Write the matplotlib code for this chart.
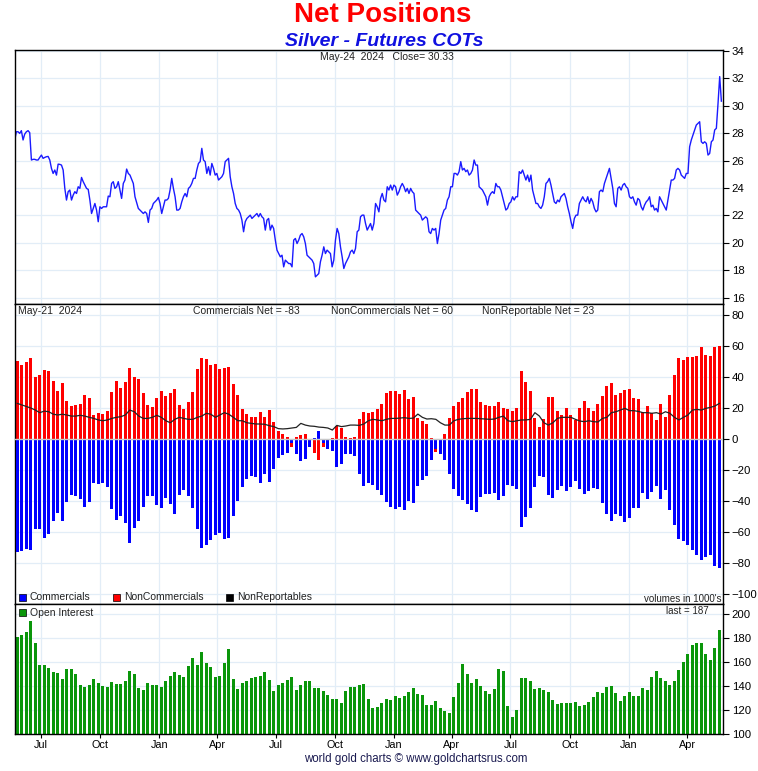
import numpy as np
import pandas as pd
import matplotlib
matplotlib.use('Agg')
import matplotlib.pyplot as plt
import matplotlib.dates as mdates
from matplotlib.patches import Rectangle

plt.rcParams['font.family'] = ['Liberation Sans', 'DejaVu Sans']

# silver price (daily-ish samples, May-2021 .. May-24 2024)
price = [
    27.50, 28.10, 28.10, 27.98, 28.18, 27.50, 27.93, 28.10, 28.18, 28.03, 26.04,
    26.09, 26.09, 26.04, 26.04, 26.23, 26.40, 26.16, 26.23, 26.28, 26.30, 26.04,
    25.43, 25.06, 25.31, 24.94, 25.74, 25.72, 25.67, 25.31, 23.97, 23.12,
    23.73, 23.85, 23.12, 23.48, 23.73, 23.60, 24.09, 23.97, 24.77, 24.46,
    24.21, 23.97, 23.90, 23.12, 22.14, 22.51, 22.87, 22.39, 21.54, 22.63,
    22.51, 22.63, 22.63, 22.63, 23.41, 23.36, 24.33, 24.46, 23.97, 24.09,
    24.46, 23.85, 23.24, 24.33, 24.58, 25.38, 25.06, 24.94, 24.63, 24.33,
    23.36, 22.92, 22.51, 22.39, 22.26, 22.14, 22.26, 22.14, 21.49, 22.39,
    22.51, 22.87, 22.99, 23.12, 23.31, 22.87, 22.14, 22.63, 23.12, 23.12,
    23.24, 23.85, 24.70, 23.97, 23.36, 22.39, 22.39, 22.51, 22.99, 23.36,
    23.60, 23.36, 23.97, 24.09, 24.33, 24.70, 24.70, 25.31, 25.79, 25.92,
    26.89, 26.04, 25.92, 25.06, 25.55, 24.94, 25.79, 25.43, 24.94, 25.06,
    24.58, 24.70, 24.82, 25.06, 25.92, 26.04, 26.16, 24.82, 24.09, 23.60,
    22.87, 22.51, 22.39, 22.14, 21.66, 20.81, 21.54, 21.78, 21.90, 22.02,
    21.78, 21.90, 22.02, 22.14, 21.90, 22.14, 21.90, 21.78, 20.93, 21.66,
    21.78, 20.93, 21.29, 21.05, 20.20, 19.47, 19.22, 18.98, 19.10, 18.25,
    18.74, 18.62, 18.49, 18.49, 18.25, 20.20, 20.32, 19.95, 20.20, 20.56,
    20.68, 20.44, 19.95, 19.10, 18.98, 18.86, 18.74, 18.49, 17.52, 17.64,
    17.76, 18.62, 19.10, 19.71, 19.22, 19.47, 19.35, 19.22, 18.25, 18.74,
    20.20, 21.05, 20.68, 19.71, 18.98, 18.13, 18.49, 18.74, 18.98, 19.35,
    19.47, 19.22, 19.59, 20.81, 20.93, 21.90, 22.02, 22.02, 21.41, 20.93,
    21.17, 21.41, 20.93, 21.41, 22.87, 22.63, 22.26,
    23.24, 23.60, 23.12, 22.99, 24.09, 23.85, 24.21, 23.85, 24.21, 24.09,
    23.48, 23.73, 24.09, 24.33, 24.09, 23.73, 23.97, 23.60, 23.97, 23.73,
    23.60, 22.39, 22.26, 22.14, 22.02, 21.66, 21.78, 21.90, 21.78, 20.81,
    20.68, 21.05, 20.93, 21.05, 19.95, 20.68, 21.66, 22.02, 22.39, 22.51,
    23.12, 23.36, 24.09, 24.09, 25.06, 25.06, 24.94, 25.19, 25.92, 25.31,
    25.43, 25.19, 25.31, 24.94, 25.06, 25.31, 26.04, 25.67, 25.67, 24.09,
    23.97, 23.85, 23.60, 23.36, 22.75, 23.36, 23.60, 23.73, 23.60, 24.33,
    24.09, 24.09, 23.85, 23.36, 22.87, 22.39, 22.51, 22.87, 22.99, 23.36,
    23.12, 23.36, 23.36, 25.19, 25.06, 25.31, 24.94, 24.58, 24.94, 24.46,
    24.94, 23.85, 23.36, 22.87, 22.87, 22.63, 22.51, 22.75, 23.36, 24.33,
    24.46, 24.70, 24.21, 23.60, 22.99, 22.87, 23.12, 22.99, 23.36, 23.48,
    23.60, 23.24, 22.63, 22.14, 21.54, 21.05, 21.78, 22.02, 22.02, 22.87,
    23.12, 23.36, 23.12, 22.99, 23.36, 22.87, 23.24, 22.99, 22.51, 22.26,
    22.39, 23.73, 23.85, 23.73, 24.33, 24.70, 25.06, 25.43, 24.70, 23.97,
    22.87, 22.63, 23.97, 24.09, 23.85, 24.21, 24.33, 24.09, 23.97, 23.36,
    23.24, 23.36, 22.99, 22.75, 23.24, 23.12, 22.63, 22.39, 22.75, 22.99,
    23.12, 23.36, 22.63, 22.75, 22.39, 22.51, 22.26, 23.36, 23.12, 22.87,
    22.63, 22.39, 23.12, 23.85, 24.58, 24.58, 24.70, 25.31, 25.43, 25.31,
    24.94, 24.82, 24.70, 25.06, 25.06, 27.01, 27.50, 27.86, 28.23, 28.59,
    28.71, 28.83, 27.37, 27.25, 27.37, 27.25, 26.40, 26.52, 27.37, 27.50,
    28.23, 28.35, 30.17, 32.12, 30.33,
]

# weekly COT net positions (1000's of contracts)
commercials = [
    -72.7, -72.0, -71.0, -71.6, -58.1, -58.1, -63.9, -61.3, -52.9, -47.7,
    -52.9, -40.6, -36.1, -36.8, -38.7, -43.9, -40.6, -28.4, -29.0, -28.4,
    -31.0, -45.2, -52.3, -49.7, -54.2, -67.1, -57.4, -52.9, -43.9, -36.8,
    -36.8, -42.6, -44.5, -38.1, -41.9, -48.4, -36.1, -32.9, -36.8, -44.5,
    -58.1, -70.1, -68.4, -65.2, -61.9, -60.6, -64.5, -63.9, -49.7, -40.0,
    -31.0, -25.8, -23.9, -24.5, -28.4, -22.6, -27.7, -19.4, -12.3, -10.3,
    -9.0, -2.6, -9.7, -14.2, -12.9, -5.2, 0.8, 5.2, -2.6, -6.5,
    -7.7, -18.1, -16.1, -9.7, -9.7, -11.0, -22.6, -30.3, -28.4, -29.7,
    -32.9, -36.1, -40.6, -43.9, -45.2, -43.9, -45.8, -40.0, -41.3, -30.3,
    -26.5, -23.9, -13.5, -6.5, -9.7, -13.5, -22.6, -32.3, -36.8, -39.4,
    -41.9, -45.8, -47.1, -37.4, -35.5, -35.5, -34.8, -39.4, -36.8, -29.7,
    -30.3, -32.3, -56.8, -50.3, -44.5, -31.0, -23.9, -24.5, -36.1, -38.1,
    -32.9, -30.3, -33.5, -31.0, -27.1, -32.3, -35.5, -33.5, -31.6, -32.3,
    -41.3, -48.4, -52.9, -48.4, -49.7, -53.5, -51.0, -44.5, -44.5, -34.8,
    -38.7, -34.2, -30.3, -38.7, -32.9, -45.8, -55.5, -64.5, -65.8, -68.4,
    -71.6, -74.8, -78.1, -76.1, -74.8, -81.9, -83.0,
]
noncommercials = [
    50.3, 47.7, 49.7, 52.3, 40.0, 41.3, 44.5, 43.9, 37.4, 31.0,
    36.1, 24.5, 21.3, 21.9, 22.6, 28.4, 26.5, 15.5, 16.8, 16.1,
    18.1, 30.3, 37.4, 32.9, 36.8, 45.8, 40.0, 38.7, 29.7, 21.9,
    20.6, 26.5, 31.0, 27.7, 29.7, 32.3, 21.9, 19.4, 23.9, 30.3,
    45.2, 52.3, 51.6, 47.7, 48.4, 45.2, 45.8, 46.5, 35.5, 28.4,
    19.4, 16.1, 14.2, 14.2, 17.4, 14.2, 18.7, 11.0, 5.2, 3.2,
    1.3, -5.2, 1.3, 2.6, 3.2, -3.2, -9.0, -13.5, -5.2, -0.6,
    0.6, 8.4, 7.1, 1.3, 0.7, 1.3, 12.9, 17.4, 16.8, 17.4,
    19.4, 22.6, 29.7, 31.0, 31.0, 29.0, 31.6, 25.8, 27.1, 13.5,
    11.6, 9.7, 0.4, -8.4, -0.8, 3.2, 13.5, 21.3, 23.9, 26.5,
    30.3, 32.3, 32.3, 23.9, 21.9, 21.3, 21.3, 23.9, 20.0, 19.4,
    18.1, 20.0, 43.9, 36.8, 31.0, 13.5, 7.7, 12.9, 27.1, 27.1,
    18.1, 15.5, 20.0, 15.5, 12.3, 20.0, 24.5, 20.0, 18.1, 22.6,
    27.7, 34.2, 36.1, 28.4, 29.7, 31.6, 32.3, 26.5, 25.8, 17.4,
    21.3, 16.8, 12.3, 22.6, 14.2, 28.4, 41.3, 52.3, 51.0, 52.9,
    52.9, 53.5, 59.4, 54.2, 53.5, 59.4, 60.0,
]
nonreportables = [
    23, 22, 21, 20, 18.7, 17, 18, 17.6, 16, 15.5,
    16, 15.5, 14.8, 14.8, 15.3, 14.8, 14, 13.3, 12.3, 11.8,
    12.3, 13.3, 14, 14.4, 15.5, 18.7, 17.6, 14.8, 13.3, 13.3,
    14, 15.3, 14, 11.8, 10.5, 12.7, 14, 13.3, 12.7, 12.7,
    14, 14.8, 16.6, 16, 14, 15.5, 17, 16, 14, 11.8,
    11.8, 10.5, 10.1, 9.7, 9.7, 9.5, 8.6, 8, 6.7, 6.5,
    6.7, 7.1, 7.5, 10.1, 9, 8.4, 8.2, 7.7, 7.5, 7.1,
    5.8, 8.8, 8, 8.4, 9, 9, 8.8, 9.7, 11.8, 12.7,
    12.3, 11.8, 12.7, 13.3, 13.3, 13.5, 13.8, 13.3, 13.5, 16.1,
    14, 12.9, 13.1, 12.7, 10.5, 9, 9, 11.8, 12.7, 13.1,
    13.3, 13.3, 13.3, 13.1, 12.9, 12.7, 12.9, 14, 14.8, 11.8,
    11.2, 11.8, 12.3, 12.3, 12.7, 17, 14.8, 10.5, 9, 10.5,
    13.3, 14, 14, 14, 12.7, 11.6, 11.2, 11.8, 11.2, 11,
    13.3, 14, 17, 17.6, 18.7, 19.8, 18.3, 18.3, 17.8, 17,
    17, 16.6, 17, 16.1, 17.6, 16.6, 14, 12.3, 14, 15.5,
    18.7, 19.1, 18.7, 19.8, 20.4, 21.3, 23,
]
open_interest = [
    180.8, 182.5, 185, 194.2, 175.8, 157.5, 157.5, 155, 151.7, 150.8,
    145.8, 154.2, 154.2, 150, 140.8, 139.2, 140.8, 145.8, 142.5, 140,
    139.2, 143.3, 141.7, 141.7, 144.2, 152.5, 150, 138.3, 136.7, 142.5,
    140.8, 140.8, 139.2, 144.2, 148.3, 151.7, 149.2, 147.5, 156.7, 163.3,
    157.5, 168.3, 159.2, 155.8, 147.5, 148.3, 159.2, 170.8, 145.8, 137.5,
    142.5, 144.2, 146.7, 147.5, 148.3, 151.7, 145, 135.8, 140.8, 142.5,
    145, 147.5, 136.7, 140.8, 144.2, 144.2, 138.3, 138.3, 135.8, 132.5,
    129.2, 129.2, 125.8, 135.8, 139.2, 139.2, 140.8, 141.7, 129.2, 121.7,
    122.5, 125.8, 129.2, 128.3, 131.7, 130, 131.7, 135, 138.3, 133.3,
    132.5, 124.2, 124.2, 127.5, 121.7, 119.2, 117.5, 130.8, 142.5, 158.3,
    150, 142.5, 145.8, 140, 135.8, 133.3, 137.5, 154.2, 152.5, 123.3,
    114.2, 120, 146.7, 146.7, 144.2, 137.5, 138.3, 136.7, 135, 128.3,
    125, 125.8, 125.8, 125.8, 126.7, 123.3, 124.2, 126.7, 130.8, 135,
    134.2, 139.2, 140, 134.2, 127.5, 131.7, 135, 131.7, 131.7, 138.3,
    136.7, 147.5, 152.5, 146.7, 144.2, 140.8, 144.2, 153.3, 160, 166.7,
    174.2, 175.8, 175.8, 166.7, 161.7, 171.7, 186.7,
]

price_dates = pd.date_range('2021-05-21', '2024-05-24', periods=len(price))
cot_dates = pd.date_range('2021-05-25', periods=len(commercials), freq='7D')

grid_col = '#e2edf7'
txt_col = '#222222'

fig = plt.figure(figsize=(7.58, 7.71), dpi=100)
L = 14.7 / 758
W = (723.3 - 14.7) / 758
ax1 = fig.add_axes([L, 1 - 304.3 / 771, W, (304.3 - 50) / 771])
ax2 = fig.add_axes([L, 1 - 604.3 / 771, W, 300 / 771])
ax3 = fig.add_axes([L, 1 - 734 / 771, W, (734 - 604.3) / 771])

for ax in (ax1, ax2, ax3):
    ax.set_xlim(pd.Timestamp('2021-05-21'), pd.Timestamp('2024-05-27'))
    ax.xaxis.set_major_locator(mdates.MonthLocator(bymonth=[1, 4, 7, 10]))
    ax.xaxis.set_major_formatter(mdates.DateFormatter('%b'))
    ax.yaxis.tick_right()
    ax.tick_params(axis='y', direction='out', length=4, pad=2, labelsize=8.2, colors='black')
    ax.grid(True, color=grid_col, lw=0.9)
    ax.set_axisbelow(True)
    for s in ax.spines.values():
        s.set_color('black')
        s.set_linewidth(1.0)

ax1.tick_params(axis='x', bottom=False, labelbottom=False)
ax2.tick_params(axis='x', bottom=False, labelbottom=False)
ax3.tick_params(axis='x', direction='out', length=3, pad=1.5, labelsize=7.8)

# price panel
ax1.plot(price_dates, price, color='#1a1aff', lw=1.0)
ax1.set_ylim(15.52, 34.06)
ax1.set_yticks(np.arange(16, 35, 2))
ax1.text(0.525, 0.972, 'May-24  2024   Close= 30.33', transform=ax1.transAxes,
         ha='center', va='center', fontsize=7.5, color=txt_col)

# net positions panel
ax2.bar(cot_dates, noncommercials, width=4.7, color='#ff0000', zorder=2)
ax2.bar(cot_dates, commercials, width=4.7, color='#0000ff', zorder=3)
ax2.axhline(0, color='#c8c8c8', lw=1.0, zorder=4)
ax2.plot(cot_dates, nonreportables, color='#222222', lw=0.9, zorder=5)
ax2.set_ylim(-106.6, 86.9)
ax2.set_yticks(np.arange(-100, 81, 20))

yt = 0.978
ax2.text(0.005, yt, 'May-21  2024', transform=ax2.transAxes, ha='left', va='center', fontsize=7.5, color=txt_col)
ax2.text(0.327, yt, 'Commercials Net = %d' % round(commercials[-1]), transform=ax2.transAxes,
         ha='center', va='center', fontsize=7.5, color=txt_col)
ax2.text(0.532, yt, 'NonCommercials Net = %d' % round(noncommercials[-1]), transform=ax2.transAxes,
         ha='center', va='center', fontsize=7.5, color=txt_col)
ax2.text(0.738, yt, 'NonReportable Net = %d' % round(nonreportables[-1]), transform=ax2.transAxes,
         ha='center', va='center', fontsize=7.5, color=txt_col)

def legend_box(ax, x0, color, label, y, h):
    w = 7 / 708.6
    ax.add_patch(Rectangle((x0, y - h / 2), w, h, transform=ax.transAxes,
                           facecolor=color, edgecolor='black', lw=0.5, zorder=6))
    ax.text(x0 + w + 4 / 708.6, y, label, transform=ax.transAxes, ha='left', va='center',
            fontsize=7.5, color=txt_col, zorder=6)

legend_box(ax2, (19 - 14.7) / 708.6, '#0000ff', 'Commercials', 0.024, 7 / 300)
legend_box(ax2, (113 - 14.7) / 708.6, '#ff0000', 'NonCommercials', 0.024, 7 / 300)
legend_box(ax2, (226 - 14.7) / 708.6, '#000000', 'NonReportables', 0.024, 7 / 300)
ax2.text(0.997, 0.016, "volumes in 1000's", transform=ax2.transAxes, ha='right', va='center',
         fontsize=7, color=txt_col)

# open interest panel
ax3.bar(cot_dates, open_interest, width=4.7, color='#0a960a', zorder=2)
ax3.set_ylim(100, 208.1)
ax3.set_yticks(np.arange(100, 201, 20))
legend_box(ax3, (19 - 14.7) / 708.6, '#0a960a', 'Open Interest', 0.935, 7 / 129.7)
ax3.text(0.979, 0.951, 'last = %d' % round(open_interest[-1]), transform=ax3.transAxes,
         ha='right', va='center', fontsize=7, color=txt_col)

fig.text(383 / 758, 1 - 15 / 771, 'Net Positions', color='#ff0000', fontsize=20,
         fontweight='bold', ha='center', va='center')
fig.text(384 / 758, 1 - 42 / 771, 'Silver - Futures COTs', color='#1010e0', fontsize=14,
         fontweight='bold', fontstyle='italic', ha='center', va='center')
fig.text(416 / 758, 1 - 759 / 771, 'world gold charts \u00a9 www.goldchartsrus.com',
         color='#1a1a50', fontsize=8.3, ha='center', va='center')

fig.savefig('out.png', dpi=100)
